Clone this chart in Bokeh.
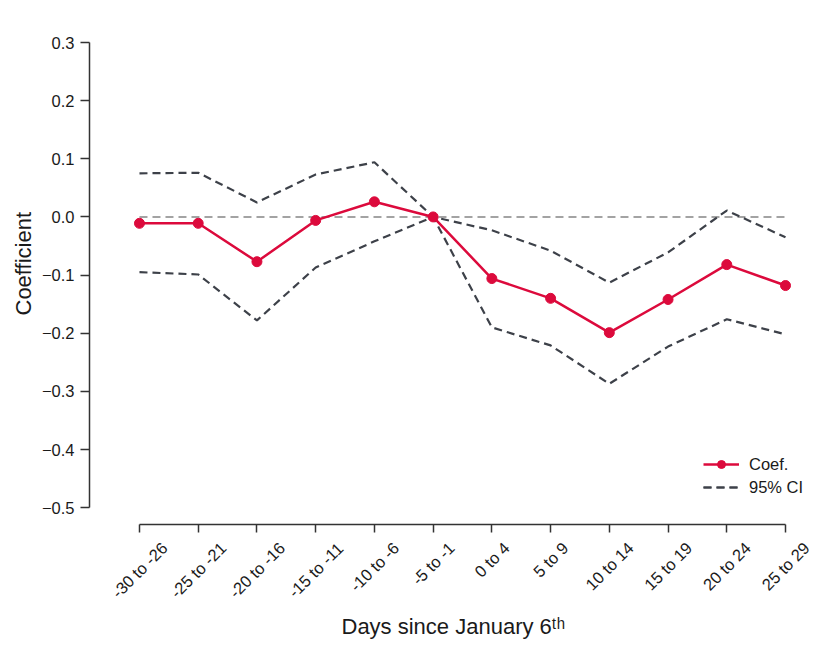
import math
from bokeh.plotting import figure
from bokeh.models import (FixedTicker, CustomJSTickFormatter, Range1d, Title, LabelSet,
                          ColumnDataSource)
from bokeh.core.properties import value
from bokeh.embed import file_html
from bokeh.resources import INLINE

categories = ["-30 to -26", "-25 to -21", "-20 to -16", "-15 to -11", "-10 to -6", "-5 to -1",
              "0 to 4", "5 to 9", "10 to 14", "15 to 19", "20 to 24", "25 to 29"]
coef = [-0.011, -0.011, -0.077, -0.006, 0.026, 0.0, -0.106, -0.140, -0.199, -0.142, -0.082, -0.118]
ci_upper = [0.075, 0.076, 0.025, 0.073, 0.094, 0.0, -0.023, -0.058, -0.113, -0.061, 0.011, -0.035]
ci_lower = [-0.095, -0.099, -0.178, -0.087, -0.042, 0.0, -0.190, -0.221, -0.287, -0.223, -0.176, -0.202]
y_ticks = [-0.5, -0.4, -0.3, -0.2, -0.1, 0.0, 0.1, 0.2, 0.3]
zero_ref = [0.0, 0.0]

x = list(range(len(categories)))

RED = "#dc0a3c"
DARK = "#3d4149"
AXIS = "#333333"
TEXT = "#1a1a1a"
FONT = "Liberation Sans"
TICK_PX = 16.5

# the x axis sits a little below the lowest y tick (offset spine)
X_AXIS_AT = -0.529

p = figure(width=831, height=656, output_backend="svg", toolbar_location=None,
           x_range=Range1d(-0.851, 11.698), y_range=Range1d(-0.6597, 0.3),
           min_border_left=89, min_border_right=5, min_border_top=42, min_border_bottom=56)
p.outline_line_color = None
p.xgrid.visible = False
p.ygrid.visible = False

# zero reference line
p.line([x[0], x[-1]], zero_ref, line_color="#858585", line_width=1.6, line_dash="8 5")

# confidence interval
p.line(x, ci_upper, line_color=DARK, line_width=2.2, line_dash="8 5", legend_label="95% CI")
p.line(x, ci_lower, line_color=DARK, line_width=2.2, line_dash="8 5", legend_label="95% CI")

# coefficients
p.line(x, coef, line_color=RED, line_width=2.5, legend_label="Coef.")
p.scatter(x, coef, size=10, fill_color=RED, line_color=RED, legend_label="Coef.")

# x axis (line + ticks), its labels are centred under the ticks by a LabelSet below
xa = p.xaxis[0]
xa.fixed_location = X_AXIS_AT
xa.bounds = (x[0], x[-1])
xa.ticker = FixedTicker(ticks=x)
xa.formatter = CustomJSTickFormatter(code="return '';")
xa.major_tick_out = 8
xa.major_tick_in = 0
xa.minor_tick_out = 0
xa.minor_tick_in = 0
xa.axis_line_color = AXIS
xa.axis_line_width = 1.5
xa.major_tick_line_color = AXIS
xa.major_tick_line_width = 1.5
xa.major_label_text_font_size = "1px"

# rotated tick labels, centred on each tick (text width from Arial/Liberation metrics)
_w = {"-": 0.333, " ": 0.278, "t": 0.278, "o": 0.556}
def _text_w(s):
    return sum(_w.get(ch, 0.556) for ch in s) * TICK_PX

lab_dy = [-(8 + 7 + 0.3536 * (_text_w(c) + 0.95 * TICK_PX)) for c in categories]
lab_src = ColumnDataSource(dict(x=x, y=[X_AXIS_AT] * len(x), text=categories, dy=lab_dy))
p.add_layout(LabelSet(x="x", y="y", text="text", y_offset="dy", source=lab_src,
                      angle=math.pi / 4, text_align="center", text_baseline="middle",
                      text_font=value(FONT), text_font_size=value(f"{TICK_PX}px"),
                      text_color=TEXT))

# y axis
ya = p.yaxis[0]
ya.bounds = (y_ticks[0], y_ticks[-1])
ya.ticker = FixedTicker(ticks=y_ticks)
ya.formatter = CustomJSTickFormatter(code="return (tick < -1e-9 ? '\u2212' : '') + Math.abs(tick).toFixed(1);")
ya.major_tick_out = 9
ya.major_tick_in = 0
ya.minor_tick_out = 0
ya.minor_tick_in = 0
ya.major_label_standoff = 6
ya.axis_line_color = AXIS
ya.axis_line_width = 1.5
ya.major_tick_line_color = AXIS
ya.major_tick_line_width = 1.5
ya.major_label_text_font = FONT
ya.major_label_text_font_size = f"{TICK_PX}px"
ya.major_label_text_color = TEXT

# axis titles
ytitle = Title(text="Coefficient", align="left", offset=285, standoff=6,
               text_font=FONT, text_font_size="22px", text_font_style="normal",
               text_color=TEXT)
p.add_layout(ytitle, "left")
xtitle = Title(text="Days since January 6\u1d57\u02b0", align="left", offset=252, standoff=22,
               text_font=FONT, text_font_size="22px", text_font_style="normal",
               text_color=TEXT)
p.add_layout(xtitle, "below")

# legend
lg = p.legend[0]
lg.items = list(reversed(lg.items))
lg.location = (614, 103)
lg.border_line_color = None
lg.background_fill_alpha = 0
lg.label_text_font = FONT
lg.label_text_font_size = f"{TICK_PX}px"
lg.label_text_color = TEXT
lg.glyph_width = 36
lg.label_standoff = 10
lg.label_height = 20
lg.spacing = 3
lg.padding = 5

open("out.html", "w").write(file_html(p, INLINE))
